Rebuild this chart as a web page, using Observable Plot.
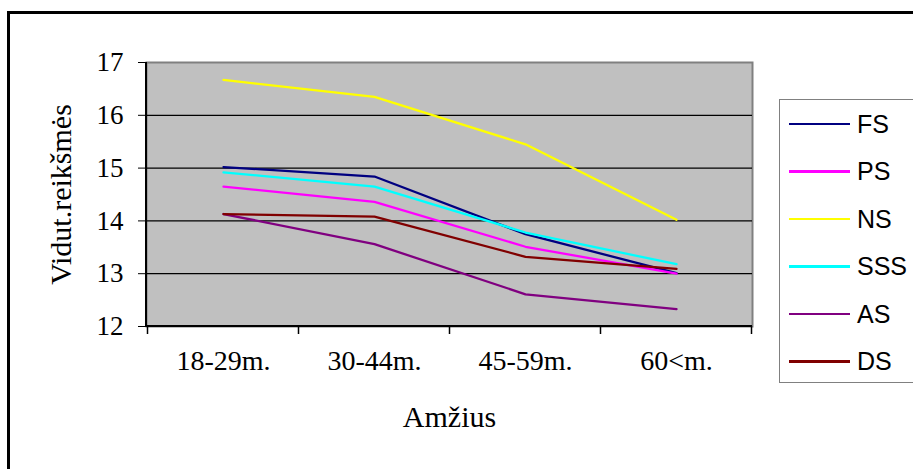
<!DOCTYPE html>
<html><head><meta charset="utf-8">
<script src="https://cdn.jsdelivr.net/npm/d3@7"></script>
<script src="https://cdn.jsdelivr.net/npm/@observablehq/plot@0.6"></script>
<style>
body{margin:0;background:#fff;}
#wrap{position:relative;width:913px;height:469px;overflow:hidden;background:#fff;}
#wrap svg{position:absolute;left:0;top:0;}
#border{position:absolute;left:7px;top:11px;width:1000px;height:1000px;border:3px solid #000;box-sizing:border-box;}
#legend{position:absolute;left:779px;top:99px;width:200px;height:284px;border:1.5px solid #808080;box-sizing:border-box;background:#fff;font-family:"Liberation Sans",Arial,sans-serif;font-size:25px;color:#000;}
.item{position:absolute;left:0;height:30px;display:flex;align-items:center;}
.sw{display:inline-block;width:61px;height:2.5px;margin-left:9px;margin-right:7px;}
</style></head>
<body>
<div id="wrap"><div id="border"></div></div>
<script>
const categories = ["18-29m.", "30-44m.", "45-59m.", "60<m."];
const seriesNames = ["FS", "PS", "NS", "SSS", "AS", "DS"];
const seriesColors = ["#000080", "#FF00FF", "#FFFF00", "#00FFFF", "#800080", "#800000"];
const FS  = [15.02, 14.84, 13.75, 13.01];
const PS  = [14.65, 14.36, 13.51, 13.00];
const NS  = [16.67, 16.35, 15.45, 14.02];
const SSS = [14.92, 14.65, 13.78, 13.18];
const AS  = [14.13, 13.56, 12.61, 12.33];
const DS  = [14.13, 14.08, 13.32, 13.09];
const yTicks = [12, 13, 14, 15, 16, 17];
const yGrid = [13, 14, 15, 16];
const xTitle = "Amžius";
const yTitle = "Vidut.reikšmės";

const seriesValues = [FS, PS, NS, SSS, AS, DS];
const data = seriesNames.flatMap((s, i) => categories.map((c, j) => ({cat: c, value: seriesValues[i][j], series: s})));

function axisLines(index, scales, channels, dims) {
  const g = d3.create("svg:g");
  const x = scales.x;
  const left = dims.marginLeft, right = dims.width - dims.marginRight;
  const top = dims.marginTop, bottom = dims.height - dims.marginBottom;
  const step = x(categories[1]) - x(categories[0]);
  const edges = [x(categories[0]) - step / 2, ...categories.map(c => x(c) + step / 2)];
  g.append("line").attr("x1", left).attr("x2", left).attr("y1", top).attr("y2", bottom + 1)
    .attr("stroke", "#000").attr("stroke-width", 2);
  g.append("line").attr("x1", left).attr("x2", right).attr("y1", bottom).attr("y2", bottom)
    .attr("stroke", "#000").attr("stroke-width", 2);
  for (const e of edges) {
    g.append("line").attr("x1", e).attr("x2", e).attr("y1", bottom).attr("y2", bottom + 8)
      .attr("stroke", "#000").attr("stroke-width", 1.5);
  }
  return g.node();
}

const chart = Plot.plot({
  width: 913, height: 469,
  marginLeft: 146, marginRight: 161, marginTop: 62, marginBottom: 143,
  style: {fontFamily: "Liberation Serif", fontSize: "26px", background: "transparent", color: "#000", overflow: "visible"},
  x: {type: "point", domain: categories, padding: 0.5, label: null},
  y: {domain: [12, 17], label: null},
  color: {domain: seriesNames, range: seriesColors},
  marks: [
    Plot.frame({fill: "#c0c0c0", stroke: "#808080", strokeWidth: 2}),
    Plot.ruleY(yGrid, {stroke: "#000", strokeWidth: 1.3}),
    Plot.axisY({ticks: yTicks, tickSize: 8, tickPadding: 15, tickFormat: d => String(d), fontSize: 27, label: null}),
    Plot.axisX({tickSize: 0, tickPadding: 24, fontSize: 28, label: null}),
    axisLines,
    Plot.line(data, {x: "cat", y: "value", z: "series", stroke: "series", strokeWidth: 2.3}),
    Plot.text([xTitle], {text: d => d, frameAnchor: "bottom", dy: 91, fontSize: 30, textAnchor: "middle", lineAnchor: "middle"}),
    Plot.text([yTitle], {text: d => d, frameAnchor: "left", dx: -85, rotate: -90, fontSize: 30, textAnchor: "middle", lineAnchor: "middle"})
  ]
});
const wrap = document.getElementById("wrap");
wrap.insertBefore(chart, wrap.firstChild);

const legend = document.createElement("div");
legend.id = "legend";
seriesNames.forEach((s, i) => {
  const item = document.createElement("div");
  item.className = "item";
  item.style.top = (9 + i * 47.5) + "px";
  const sw = document.createElement("span");
  sw.className = "sw";
  sw.style.background = seriesColors[i];
  const t = document.createElement("span");
  t.textContent = s;
  item.appendChild(sw);
  item.appendChild(t);
  legend.appendChild(item);
});
wrap.appendChild(legend);
</script>
</body></html>
